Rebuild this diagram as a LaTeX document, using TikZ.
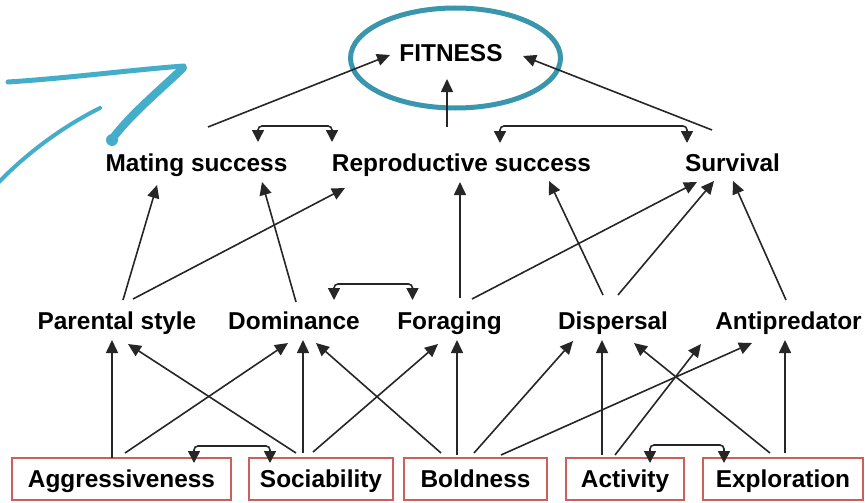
\documentclass[tikz,border=0pt]{standalone}
\usepackage{fontspec}
\setmainfont{Liberation Sans}
\usetikzlibrary{arrows.meta,calc}

\definecolor{fitblue}{RGB}{58,150,172}
\definecolor{penblue}{RGB}{68,174,202}
\definecolor{boxred}{RGB}{205,95,90}

\begin{document}
\begin{tikzpicture}[x=1pt,y=-1pt,
  trait/.style={font=\fontsize{24.4}{28}\selectfont\bfseries, inner sep=0pt, text height=17pt, text depth=0pt},
  pbox/.style={trait, draw=boxred, line width=2pt, minimum height=42pt},
  arr/.style={draw=black!85, line width=1.6pt, -{Triangle[length=13pt,width=12pt]}},
  dbl/.style={draw=black!85, line width=1.6pt, {Triangle[length=12pt,width=12pt]}-{Triangle[length=12pt,width=12pt]}, rounded corners=4pt}]
\useasboundingbox (0,0) rectangle (865,503);

% hand drawn mark
\draw[penblue, line width=5pt, line cap=round] (8,82) .. controls (70,78) and (130,70) .. (184,66);
\draw[penblue, line width=8pt, line cap=round] (183,68) .. controls (160,90) and (130,115) .. (113,138);
\fill[penblue] (112,140) circle (6pt);
\draw[penblue, line width=4pt, line cap=round] (100,108) .. controls (60,128) and (25,155) .. (-2,183);

% fitness
\draw[fitblue, line width=5pt] (455.5,58) ellipse [x radius=105pt, y radius=50pt];
\node[trait] (fit) at (451,53) {FITNESS};

% components
\node[trait] (ms) at (196.5,163) {Mating success};
\node[trait] (rs) at (461.5,163) {Reproductive success};
\node[trait] (sv) at (732.5,163) {Survival};

% behaviours
\node[trait] (ps) at (117,321) {Parental style};
\node[trait] (dom) at (294,321) {Dominance};
\node[trait] (for) at (449.5,321) {Foraging};
\node[trait] (dis) at (613,321) {Dispersal};
\node[trait] (ant) at (788.5,321) {Antipredator};

% personality traits
\node[pbox, minimum width=219pt] (agg) at (121.5,479) {Aggressiveness};
\node[pbox, minimum width=144pt] (soc) at (321,479) {Sociability};
\node[pbox, minimum width=143pt] (bol) at (475.5,479) {Boldness};
\node[pbox, minimum width=118pt] (act) at (625,479) {Activity};
\node[pbox, minimum width=160pt] (exp) at (783,479) {Exploration};

% to fitness
\draw[arr] ($(ms)+(11.5,-36)$) -- ($(fit)+(-61,2)$);
\draw[arr] ($(rs)+(-14.5,-36)$) -- ($(fit)+(-4,26)$);
\draw[arr] ($(sv)+(-20.5,-33)$) -- ($(fit)+(72,3)$);
\draw[dbl] ($(ms)+(61.5,-21)$) -- ++(0,-16) -| ($(rs)+(-129.5,-21)$);
\draw[dbl] ($(rs)+(38.5,-20)$) -- ++(0,-17) -| ($(sv)+(-45.5,-20)$);

% behaviours to components
\draw[arr] ($(ps)+(6,-21)$) -- ($(ms)+(-39.5,22)$);
\draw[arr] ($(ps)+(16,-22)$) -- ($(rs)+(-116.5,25)$);
\draw[arr] ($(dom)+(2,-19)$) -- ($(ms)+(65.5,19)$);
\draw[arr] ($(for)+(10.5,-23)$) -- ($(rs)+(-1.5,19)$);
\draw[arr] ($(for)+(22.5,-22)$) -- ($(sv)+(-35.5,19)$);
\draw[arr] ($(dis)+(-10,-26)$) -- ($(rs)+(87.5,18)$);
\draw[arr] ($(dis)+(5,-26)$) -- ($(sv)+(-18.5,18)$);
\draw[arr] ($(ant)+(-2.5,-21)$) -- ($(sv)+(0.5,18)$);
\draw[dbl] ($(dom)+(40,-21)$) -- ++(0,-16) -| ($(for)+(-37,-21)$);

% traits to behaviours
\draw[arr] ($(agg)+(-9.5,-21)$) -- ($(ps)+(-5,19)$);
\draw[arr] ($(agg)+(3.5,-26)$) -- ($(dom)+(-6,22)$);
\draw[arr] ($(soc)+(-25,-26)$) -- ($(ps)+(11,23)$);
\draw[arr] ($(soc)+(-18,-26)$) -- ($(dom)+(9,19)$);
\draw[arr] ($(soc)+(-8,-27)$) -- ($(for)+(-11.5,23)$);
\draw[arr] ($(bol)+(-34.5,-26)$) -- ($(dom)+(22,22)$);
\draw[arr] ($(bol)+(-18.5,-24)$) -- ($(for)+(7.5,19)$);
\draw[arr] ($(bol)+(-1.5,-26)$) -- ($(dis)+(-40,20)$);
\draw[arr] ($(bol)+(25.5,-24)$) -- ($(ant)+(-36.5,22)$);
\draw[arr] ($(act)+(-23,-24)$) -- ($(dis)+(-11,19)$);
\draw[arr] ($(act)+(-10,-24)$) -- ($(ant)+(-87.5,23)$);
\draw[arr] ($(exp)+(-13,-26)$) -- ($(dis)+(21,22)$);
\draw[arr] ($(exp)+(2,-26)$) -- ($(ant)+(-3.5,19)$);
\draw[dbl] ($(agg)+(72.5,-16)$) -- ++(0,-17) -| ($(soc)+(-51,-16)$);
\draw[dbl] ($(act)+(25,-16)$) -- ++(0,-18) -| ($(exp)+(-59,-16)$);
\end{tikzpicture}
\end{document}
